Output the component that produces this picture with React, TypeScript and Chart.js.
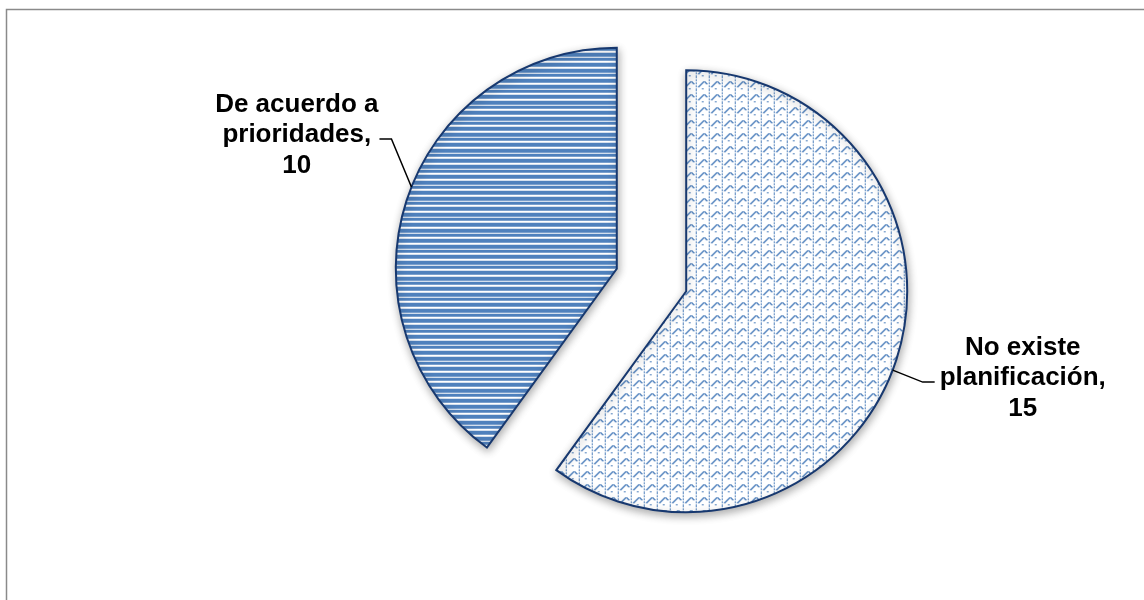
import { useEffect, useRef } from 'react';
import { Chart, registerables } from 'chart.js';

Chart.register(...registerables);

// ---- data ----
const categories = ['No existe planificación', 'De acuerdo a prioridades'];
const values = [15, 10];

// ---- style constants ----
const W = 1144;
const H = 600;
const BLUE = '#4F81BD';
const EDGE = '#17386f';
const EXPLODE = 36.5;
const RADIUS = 221;
const FONT = 'bold 26px "Liberation Sans", Arial, sans-serif';
const LINE_H = 30.5;

function stripesPattern(ctx: CanvasRenderingContext2D): CanvasPattern | string {
  const c = document.createElement('canvas');
  c.width = 8;
  c.height = 16;
  const g = c.getContext('2d')!;
  g.fillStyle = '#ffffff';
  g.fillRect(0, 0, 8, 16);
  g.fillStyle = BLUE;
  g.fillRect(0, 0, 8, 4);
  g.fillRect(0, 5, 8, 3);
  g.fillRect(0, 10, 8, 4);
  return ctx.createPattern(c, 'repeat') || BLUE;
}

function weavePattern(ctx: CanvasRenderingContext2D): CanvasPattern | string {
  const c = document.createElement('canvas');
  c.width = 13;
  c.height = 13;
  const g = c.getContext('2d')!;
  g.fillStyle = '#ffffff';
  g.fillRect(0, 0, 13, 13);
  g.fillStyle = BLUE;
  const px: [number, number][] = [
    // rising stair
    [0, 10], [1, 10], [1, 9], [2, 9], [2, 8], [3, 8], [3, 7], [4, 7], [4, 6], [5, 6],
    // cap
    [5, 5], [6, 5], [7, 5],
    // falling stub
    [7, 6], [8, 6], [8, 7], [9, 7],
    // dashed vertical
    [11, 0], [11, 1], [11, 3], [11, 4], [11, 6], [11, 7], [11, 9], [11, 10], [11, 12],
    // small bottom dash
    [4, 12], [5, 12],
  ];
  px.forEach(([x, y]) => g.fillRect(x, y, 1, 1));
  return ctx.createPattern(c, 'repeat') || BLUE;
}

function wrap(ctx: CanvasRenderingContext2D, text: string, maxW: number): string[] {
  const words = text.split(' ');
  const lines: string[] = [];
  let cur = '';
  words.forEach((w) => {
    const t = cur ? cur + ' ' + w : w;
    if (cur && ctx.measureText(t).width > maxW) {
      lines.push(cur);
      cur = w;
    } else cur = t;
  });
  if (cur) lines.push(cur);
  return lines;
}

// label geometry per slice: anchor angle on the arc (deg, canvas), elbow offset, horizontal tail
const labelGeom = [
  { angle: 20.9, elbow: [30, 12], tail: 12, side: 1 },
  { angle: 201.7, elbow: [-20, -48], tail: -12, side: -1 },
];

const framePlugin = {
  id: 'frame',
  beforeDraw(chart: any) {
    const ctx = chart.ctx as CanvasRenderingContext2D;
    ctx.save();
    ctx.fillStyle = '#ffffff';
    ctx.fillRect(0, 0, W, H);
    ctx.strokeStyle = '#8a8a8a';
    ctx.lineWidth = 1.5;
    ctx.beginPath();
    ctx.moveTo(6.5, H);
    ctx.lineTo(6.5, 9.5);
    ctx.lineTo(W, 9.5);
    ctx.stroke();
    ctx.restore();
  },
};

const explodePlugin = {
  id: 'explode',
  beforeDatasetDraw(chart: any, args: any) {
    const meta = chart.getDatasetMeta(args.index);
    const ctx = chart.ctx as CanvasRenderingContext2D;
    meta.data.forEach((arc: any) => {
      const mid = (arc.startAngle + arc.endAngle) / 2;
      ctx.save();
      ctx.translate(Math.cos(mid) * EXPLODE, Math.sin(mid) * EXPLODE);
      ctx.shadowColor = 'rgba(0,0,0,0.32)';
      ctx.shadowBlur = 8;
      ctx.shadowOffsetX = 1;
      ctx.shadowOffsetY = 3;
      arc.draw(ctx);
      ctx.restore();
    });
    return false;
  },
  afterDatasetsDraw(chart: any) {
    const meta = chart.getDatasetMeta(0);
    const ctx = chart.ctx as CanvasRenderingContext2D;
    ctx.save();
    ctx.font = FONT;
    meta.data.forEach((arc: any, i: number) => {
      const mid = (arc.startAngle + arc.endAngle) / 2;
      const cx = arc.x + Math.cos(mid) * EXPLODE;
      const cy = arc.y + Math.sin(mid) * EXPLODE;
      const g = labelGeom[i];
      const a = (g.angle * Math.PI) / 180;
      const ax = cx + Math.cos(a) * arc.outerRadius;
      const ay = cy + Math.sin(a) * arc.outerRadius;
      const ex = ax + g.elbow[0];
      const ey = ay + g.elbow[1];
      const tx = ex + g.tail;
      ctx.strokeStyle = '#000000';
      ctx.lineWidth = 1.5;
      ctx.beginPath();
      ctx.moveTo(ax, ay);
      ctx.lineTo(ex, ey);
      ctx.lineTo(tx, ey);
      ctx.stroke();

      const lines = wrap(ctx, categories[i] + ',', 175);
      lines.push(String(values[i]));
      const maxW = Math.max(...lines.map((l) => ctx.measureText(l).width));
      const centerX = g.side > 0 ? tx + 5 + maxW / 2 : tx - 1 - maxW / 2;
      const blockTop = ey - 4 - (lines.length * LINE_H) / 2;
      ctx.fillStyle = '#000000';
      ctx.textAlign = 'center';
      ctx.textBaseline = 'middle';
      lines.forEach((l, k) => {
        ctx.fillText(l, centerX, blockTop + LINE_H * (k + 0.5));
      });
    });
    ctx.restore();
  },
};

export default function App() {
  const ref = useRef<HTMLCanvasElement>(null);
  useEffect(() => {
    const canvas = ref.current!;
    const ctx = canvas.getContext('2d')!;
    const fills = [weavePattern(ctx), stripesPattern(ctx)];
    const chart = new Chart(canvas, {
      type: 'pie',
      data: {
        labels: categories,
        datasets: [
          {
            data: values,
            backgroundColor: fills as any,
            borderColor: EDGE,
            borderWidth: 2,
            borderJoinStyle: 'miter' as any,
          },
        ],
      },
      options: {
        animation: false,
        responsive: false,
        radius: RADIUS,
        layout: { padding: { left: 159, right: 0, top: 0, bottom: 40 } },
        plugins: {
          legend: { display: false },
          tooltip: { enabled: false },
        },
        events: [],
      },
      plugins: [framePlugin, explodePlugin],
    });
    return () => chart.destroy();
  }, []);
  return (
    <canvas
      ref={ref}
      width={W}
      height={H}
      style={{ position: 'absolute', left: 0, top: 0, width: W, height: H, display: 'block' }}
    />
  );
}
